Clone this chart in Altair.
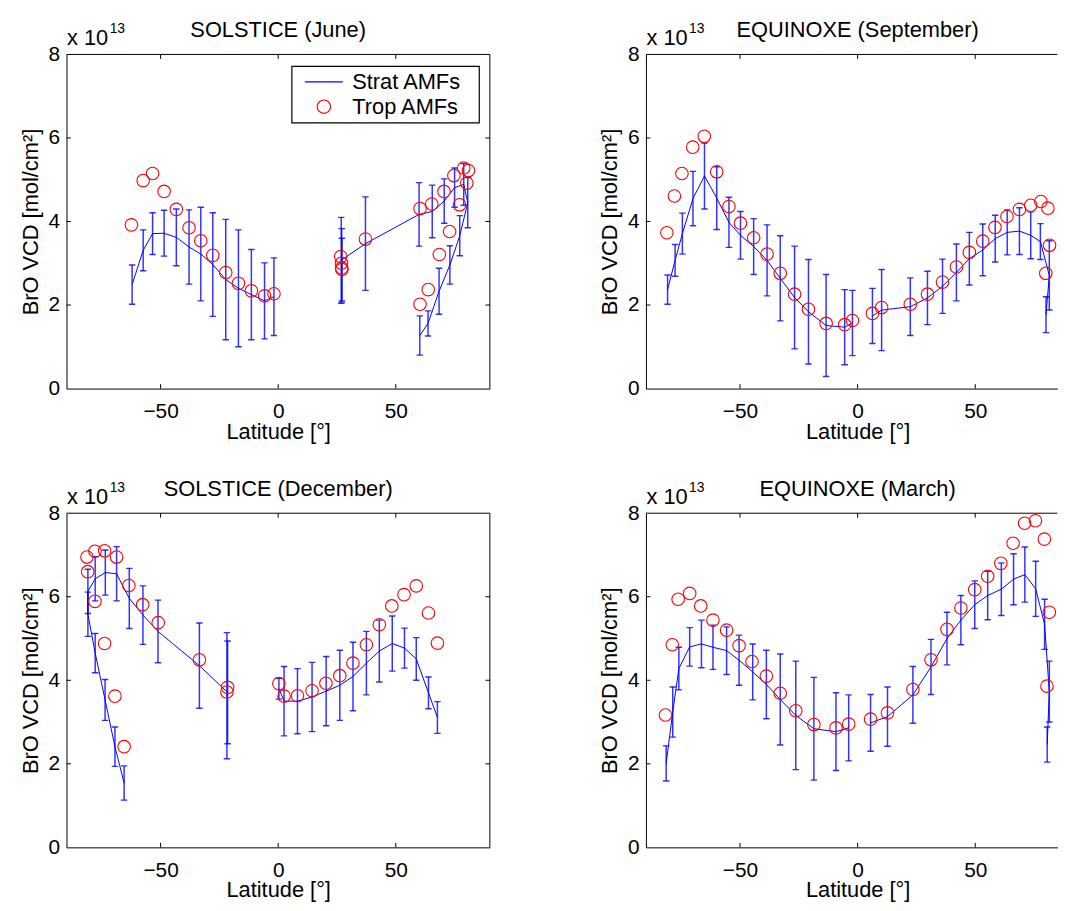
import altair as alt
import pandas as pd

FONT = "Liberation Sans"
BLUE = "#0000ff"
RED = "#ff0000"

TITLES = ["SOLSTICE (June)", "EQUINOXE (September)", "SOLSTICE (December)", "EQUINOXE (March)"]
SERIES = ["Strat AMFs", "Trop AMFs"]
X_TICKS = [-50, 0, 50]
Y_TICKS = [0, 2, 4, 6, 8]
Y_INNER = [2, 4, 6]
X_LABEL = "Latitude [°]"
Y_LABEL = "BrO VCD [mol/cm²]"
EXP_BASE = "x 10"
EXP_POW = "13"

# ---------------- June (values in 1e13 molec/cm2) ----------------
JUN_S_LAT = [-62.1, -57.4, -53.4, -48.5, -43.3, -37.9, -32.9, -27.8, -22.3, -16.9, -11.4, -5.8, -1.8,
             27.1, 27.0, 26.8, 37.1, 59.9, 65.5, 70.6, 75.0, 78.9, 80.6, 77.2, 73.0, 68.4, 63.7, 60.2]
JUN_S_VCD = [2.49, 3.31, 3.71, 3.72, 3.62, 3.39, 3.22, 2.97, 2.61, 2.40, 2.25, 2.10, 2.20,
             2.85, 2.95, 3.07, 3.47, 4.17, 4.24, 4.49, 4.81, 4.89, 4.45, 3.66, 2.96, 2.33, 1.56, 1.27]
JUN_S_ERR = [0.47, 0.49, 0.50, 0.55, 0.68, 0.89, 1.12, 1.24, 1.44, 1.40, 1.08, 0.91, 0.93,
             0.75, 0.88, 1.03, 1.12, 0.76, 0.63, 0.53, 0.47, 0.50, 0.60, 0.48, 0.46, 0.55, 0.30, 0.47]
JUN_S_SEG = [0, 0, 0, 0, 0, 0, 0, 0, 0, 0, 0, 0, 0,
             1, 1, 1, 1, 1, 1, 1, 1, 1, 1, 1, 1, 1, 1, 1]
JUN_T_LAT = [-62.4, -57.4, -53.4, -48.5, -43.3, -37.9, -32.9, -27.8, -22.3, -16.9, -11.4, -5.8, -1.8,
             26.6, 26.9, 27.0, 27.1, 37.1, 60.3, 65.3, 70.5, 74.7, 78.9, 80.9, 80.2, 77.1, 72.9, 68.5, 63.8, 60.3]
JUN_T_VCD = [3.92, 4.98, 5.15, 4.72, 4.29, 3.85, 3.54, 3.19, 2.78, 2.52, 2.34, 2.22, 2.27,
             3.16, 3.00, 2.89, 2.85, 3.58, 4.31, 4.42, 4.72, 5.10, 5.28, 5.22, 4.92, 4.40, 3.76, 3.21, 2.37, 2.02]

# ---------------- September ----------------
SEP_S_LAT = [-80.8, -77.6, -74.5, -70.0, -65.1, -59.9, -54.7, -49.8, -44.2, -38.5, -32.9, -26.8, -20.9, -13.4, -5.5, -2.2,
             6.3, 10.2, 22.4, 29.7, 36.1, 42.0, 47.5, 53.2, 58.5, 63.6, 68.8, 73.6, 77.7, 81.5, 80.1]
SEP_S_VCD = [2.37, 3.07, 3.71, 4.55, 5.09, 4.56, 3.98, 3.67, 3.40, 3.07, 2.64, 2.18, 1.84, 1.51, 1.47, 1.57,
             1.74, 1.88, 1.96, 2.17, 2.45, 2.78, 3.11, 3.32, 3.59, 3.74, 3.77, 3.67, 3.52, 2.71, 1.77]
SEP_S_ERR = [0.35, 0.38, 0.49, 0.65, 0.79, 0.75, 0.60, 0.57, 0.67, 0.85, 1.02, 1.23, 1.25, 1.22, 0.90, 0.78,
             0.66, 0.97, 0.69, 0.64, 0.65, 0.68, 0.63, 0.62, 0.56, 0.54, 0.56, 0.56, 0.43, 0.83, 0.43]
SEP_S_SEG = [0, 0, 0, 0, 0, 0, 0, 0, 0, 0, 0, 0, 0, 0, 0, 0,
             1, 1, 1, 1, 1, 1, 1, 1, 1, 1, 1, 1, 1, 1, 1]
SEP_T_LAT = [-81.1, -77.9, -74.7, -70.1, -65.2, -59.9, -54.7, -49.8, -44.2, -38.5, -32.9, -26.8, -20.9, -13.4, -5.5, -2.2,
             6.3, 10.2, 22.4, 29.7, 36.1, 42.0, 47.5, 53.2, 58.4, 63.5, 68.8, 73.6, 77.9, 80.9, 81.6, 80.0]
SEP_T_VCD = [3.73, 4.61, 5.15, 5.78, 6.04, 5.19, 4.36, 3.96, 3.61, 3.22, 2.76, 2.26, 1.90, 1.56, 1.53, 1.63,
             1.80, 1.94, 2.02, 2.26, 2.55, 2.91, 3.26, 3.53, 3.86, 4.12, 4.29, 4.39, 4.48, 4.32, 3.43, 2.76]

# ---------------- December ----------------
DEC_S_LAT = [-65.5, -69.4, -73.6, -77.8, -80.9, -80.9, -77.8, -73.5, -68.7, -63.3, -57.5, -51.1, -33.5, -21.5, -21.8,
             0.3, 2.5, 8.2, 14.4, 20.4, 26.2, 31.8, 37.5, 43.0, 48.5, 53.7, 58.7, 63.9, 67.7]
DEC_S_VCD = [1.54, 2.41, 3.53, 4.65, 5.58, 6.13, 6.43, 6.58, 6.55, 5.96, 5.56, 5.17, 4.35, 3.71, 3.63,
             3.80, 3.50, 3.50, 3.60, 3.74, 3.88, 4.09, 4.41, 4.70, 4.88, 4.77, 4.51, 3.70, 3.11]
DEC_S_ERR = [0.41, 0.47, 0.49, 0.47, 0.53, 0.53, 0.53, 0.54, 0.65, 0.72, 0.70, 0.75, 1.02, 1.23, 1.51,
             0.25, 0.83, 0.78, 0.83, 0.83, 0.84, 0.82, 0.76, 0.74, 0.66, 0.48, 0.51, 0.38, 0.38]
DEC_S_SEG = [0, 0, 0, 0, 0, 0, 0, 0, 0, 0, 0, 0, 0, 0, 0,
             1, 1, 1, 1, 1, 1, 1, 1, 1, 1, 1, 1, 1, 1]
DEC_T_LAT = [-81.3, -81.0, -77.9, -73.8, -68.7, -63.5, -57.6, -51.0, -33.5, -21.5, -21.8,
             -77.9, -73.8, -69.4, -65.5,
             0.3, 2.5, 8.2, 14.4, 20.3, 26.2, 31.8, 37.5, 43.0, 48.3, 53.5, 58.7, 63.9, 67.7]
DEC_T_VCD = [6.95, 6.60, 7.09, 7.10, 6.95, 6.27, 5.81, 5.38, 4.49, 3.83, 3.72,
             5.89, 4.88, 3.62, 2.41,
             3.92, 3.62, 3.63, 3.75, 3.93, 4.11, 4.41, 4.85, 5.33, 5.78, 6.05, 6.26, 5.61, 4.89]

# ---------------- March ----------------
MAR_S_LAT = [-81.4, -78.6, -76.0, -71.4, -66.4, -61.5, -55.7, -50.4, -44.6, -38.8, -32.9, -26.3, -18.6, -9.2, -3.8,
             5.5, 12.7, 23.5, 31.2, 38.0, 43.9, 49.8, 55.3, 61.1, 66.3, 71.1, 75.7, 79.5, 81.5, 80.6]
MAR_S_VCD = [2.01, 3.24, 4.28, 4.80, 4.87, 4.79, 4.71, 4.48, 4.20, 3.90, 3.54, 3.16, 2.84, 2.77, 2.86,
             2.98, 3.13, 3.65, 4.32, 5.00, 5.44, 5.81, 6.03, 6.18, 6.42, 6.53, 6.19, 5.34, 3.73, 2.46]
MAR_S_ERR = [0.42, 0.60, 0.51, 0.46, 0.57, 0.53, 0.57, 0.60, 0.67, 0.82, 1.09, 1.30, 1.23, 0.93, 0.79,
             0.68, 0.71, 0.68, 0.66, 0.63, 0.59, 0.57, 0.58, 0.63, 0.61, 0.66, 0.66, 0.60, 0.73, 0.42]
MAR_S_SEG = [0, 0, 0, 0, 0, 0, 0, 0, 0, 0, 0, 0, 0, 0, 0,
             1, 1, 1, 1, 1, 1, 1, 1, 1, 1, 1, 1, 1, 1, 1]
MAR_T_LAT = [-81.7, -78.8, -76.3, -71.4, -66.7, -61.5, -55.7, -50.4, -44.9, -38.8, -32.9, -26.3, -18.6, -9.2, -3.8,
             5.5, 12.7, 23.5, 31.2, 38.0, 43.9, 49.8, 55.3, 60.9, 66.1, 71.0, 75.6, 79.4, 81.5, 80.5]
MAR_T_VCD = [3.17, 4.85, 5.94, 6.08, 5.78, 5.44, 5.20, 4.83, 4.45, 4.10, 3.69, 3.27, 2.94, 2.86, 2.95,
             3.07, 3.22, 3.78, 4.49, 5.22, 5.73, 6.17, 6.49, 6.80, 7.28, 7.76, 7.82, 7.38, 5.63, 3.86]

# ---------------- layout / style ----------------
PH = 337
PW_L = 427
PW_R = 415
PX = PW_L / 180.0            # pixels per degree
XMAX_L = 90
XMAX_R = -90 + PW_R / PX
TK = 4.5                     # inward tick length
LINE_SYMBOL = "M-2.85,0L2.85,0"
LABEL_TAIL = "\u00a0\u00a0\u200b"


def make_panel(title, s_lat, s_vcd, s_err, s_seg, t_lat, t_vcd, width, xmax, left_col, with_legend):
    xs = alt.Scale(domain=[-90, xmax], nice=False, zero=False)
    ys = alt.Scale(domain=[0, 8], nice=False, zero=False)
    x_axis = alt.Axis(orient="bottom", values=X_TICKS, format="d", title=X_LABEL, titleX=90 * PX)
    y_axis = alt.Axis(orient="left", values=Y_TICKS, format="d", title=Y_LABEL)

    def X(f):
        return alt.X(f, type="quantitative", scale=xs, axis=x_axis)

    def Y(f):
        return alt.Y(f, type="quantitative", scale=ys, axis=y_axis)

    strat = pd.DataFrame({"lat": s_lat, "vcd": s_vcd, "err": s_err, "seg": s_seg})
    strat["ord"] = range(len(strat))
    strat["lo"] = strat["vcd"] - strat["err"]
    strat["hi"] = strat["vcd"] + strat["err"]
    trop = pd.DataFrame({"lat": t_lat, "vcd": t_vcd})
    trop["series"] = SERIES[1]

    bars = alt.Chart(strat).mark_rule(color=BLUE, strokeWidth=1.5, opacity=0.8, clip=True).encode(
        x=X("lat"), y=Y("lo"), y2="hi")
    cap_lo = alt.Chart(strat).mark_tick(orient="horizontal", color=BLUE, size=6.5, thickness=1.4,
                                        opacity=0.8, clip=True).encode(x=X("lat"), y=Y("lo"))
    cap_hi = alt.Chart(strat).mark_tick(orient="horizontal", color=BLUE, size=6.5, thickness=1.4,
                                        opacity=0.8, clip=True).encode(x=X("lat"), y=Y("hi"))
    line = alt.Chart(strat).mark_line(color=BLUE, strokeWidth=1, clip=True).encode(
        x=X("lat"), y=Y("vcd"), detail="seg:N", order="ord:Q")

    if with_legend:
        leg = alt.Legend(orient="none", legendX=227, legendY=11.7, title=None,
                         padding=5, rowPadding=3, symbolOffset=16.6, labelOffset=17.6,
                         labelFont=FONT, labelFontSize=22, labelColor="black",
                         symbolSize=180, symbolStrokeWidth=1.1,
                         strokeColor="black", fillColor="white",
                         labelExpr="datum.label + '" + LABEL_TAIL + "'")
        pts = alt.Chart(trop).mark_point(filled=False, size=160, strokeWidth=1.1, opacity=1, clip=True).encode(
            x=X("lat"), y=Y("vcd"),
            color=alt.Color("series:N", scale=alt.Scale(domain=SERIES, range=[BLUE, RED]), legend=leg),
            shape=alt.Shape("series:N", scale=alt.Scale(domain=SERIES, range=[LINE_SYMBOL, "circle"]), legend=leg))
    else:
        pts = alt.Chart(trop).mark_point(filled=False, shape="circle", color=RED, size=160, strokeWidth=1.1,
                                         opacity=1, clip=True).encode(x=X("lat"), y=Y("vcd"))

    xt = pd.DataFrame({"t": X_TICKS})
    yt = pd.DataFrame({"t": Y_INNER})
    one = pd.DataFrame({"k": [0]})

    t_bottom = alt.Chart(xt).mark_rule(color="black", strokeWidth=1).encode(
        x=X("t"), y=alt.value(PH), y2=alt.value(PH - TK))
    t_top = alt.Chart(xt).mark_rule(color="black", strokeWidth=1).encode(
        x=X("t"), y=alt.value(0), y2=alt.value(TK))
    t_left = alt.Chart(yt).mark_rule(color="black", strokeWidth=1).encode(
        y=Y("t"), x=alt.value(0), x2=alt.value(TK))
    border_top = alt.Chart(one).mark_rule(color="black", strokeWidth=1).encode(
        x=alt.value(0), x2=alt.value(width), y=alt.value(0))

    exp1 = alt.Chart(one).mark_text(text=EXP_BASE, align="left", baseline="alphabetic", font=FONT,
                                    fontSize=22, color="black").encode(x=alt.value(0.5), y=alt.value(-9.6))
    exp2 = alt.Chart(one).mark_text(text=EXP_POW, align="left", baseline="alphabetic", font=FONT,
                                    fontSize=14, color="black").encode(x=alt.value(43.5), y=alt.value(-21.6))
    ttl = alt.Chart(one).mark_text(text=title, align="center", baseline="alphabetic", font=FONT,
                                   fontSize=22, color="black").encode(x=alt.value(90 * PX), y=alt.value(-17.3))

    layers = [bars, cap_lo, cap_hi, line, pts, t_bottom, t_top, t_left, border_top]
    if left_col:
        t_right = alt.Chart(yt).mark_rule(color="black", strokeWidth=1).encode(
            y=Y("t"), x=alt.value(width), x2=alt.value(width - TK))
        border_right = alt.Chart(one).mark_rule(color="black", strokeWidth=1).encode(
            x=alt.value(width), y=alt.value(0), y2=alt.value(PH))
        layers += [t_right, border_right]
    layers += [exp1, exp2, ttl]

    return alt.layer(*layers).properties(width=width, height=PH)


p1 = make_panel(TITLES[0], JUN_S_LAT, JUN_S_VCD, JUN_S_ERR, JUN_S_SEG, JUN_T_LAT, JUN_T_VCD, PW_L, XMAX_L, True, True)
p2 = make_panel(TITLES[1], SEP_S_LAT, SEP_S_VCD, SEP_S_ERR, SEP_S_SEG, SEP_T_LAT, SEP_T_VCD, PW_R, XMAX_R, False, False)
p3 = make_panel(TITLES[2], DEC_S_LAT, DEC_S_VCD, DEC_S_ERR, DEC_S_SEG, DEC_T_LAT, DEC_T_VCD, PW_L, XMAX_L, True, False)
p4 = make_panel(TITLES[3], MAR_S_LAT, MAR_S_VCD, MAR_S_ERR, MAR_S_SEG, MAR_T_LAT, MAR_T_VCD, PW_R, XMAX_R, False, False)

chart = alt.concat(p1, p2, p3, p4, columns=2, spacing={"row": 125.7, "column": 157.4}, bounds="flush").properties(
    padding={"left": 11, "top": 7, "right": 0, "bottom": 0},
    background="white",
).configure_view(stroke=None).configure_axis(
    labelFont=FONT, labelFontSize=21, labelColor="black",
    titleFont=FONT, titleFontSize=22, titleFontWeight="normal", titleColor="black",
    domainColor="black", domainWidth=1, ticks=False, tickSize=0, grid=False,
).configure_axisX(labelPadding=12, titlePadding=0).configure_axisY(labelPadding=7, titlePadding=6).configure_legend(
    strokeWidth=1.2)

chart.save("out.html", embed_options={"renderer": "svg", "actions": False})
